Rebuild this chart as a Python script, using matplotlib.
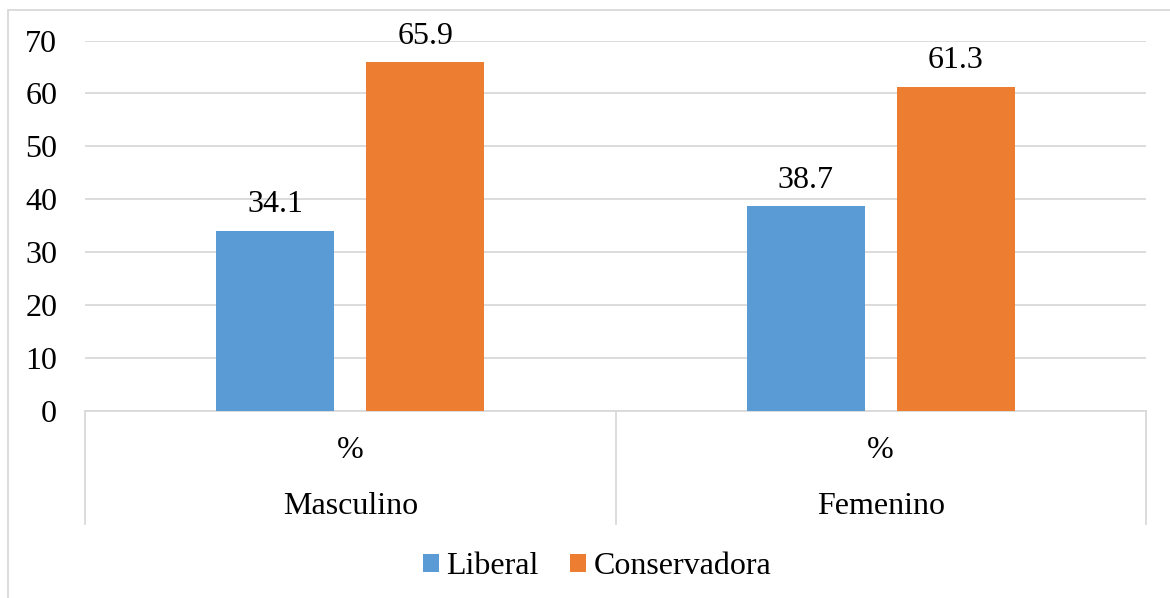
import matplotlib
matplotlib.use("Agg")
import matplotlib.pyplot as plt
from matplotlib.patches import Patch, Rectangle

categories = ["Masculino", "Femenino"]
sublabels = ["%", "%"]
series_names = ["Liberal", "Conservadora"]
liberal = [34.1, 38.7]
conservadora = [65.9, 61.3]
yticks = [0, 10, 20, 30, 40, 50, 60, 70]

colors = ["#5B9BD5", "#ED7D31"]
grid_c = "#D9D9D9"
plt.rcParams['font.family'] = ['Liberation Serif', 'DejaVu Serif']
FS = 23

W, H = 1170, 598
fig = plt.figure(figsize=(W / 100, H / 100), dpi=100)
ax = fig.add_axes([85 / W, 1 - 411 / H, (1146 - 85) / W, (411 - 40.5) / H])

x = list(range(len(categories)))
bw = 0.2224
off = 0.1414
for vals, c, name, sgn in [(liberal, colors[0], series_names[0], -1),
                           (conservadora, colors[1], series_names[1], 1)]:
    xs = [i + sgn * off for i in x]
    bars = ax.bar(xs, vals, width=bw, color=c, zorder=3)
    for b, v in zip(bars, vals):
        ax.annotate(f"{v:.1f}", (b.get_x() + b.get_width() / 2, v),
                    xytext=(0, 13), textcoords="offset points",
                    ha="center", va="baseline", fontsize=FS, color="black")

ax.set_xlim(-0.5, len(categories) - 0.5)
ax.set_ylim(0, 70)
ax.set_yticks(yticks)
ax.set_yticklabels([str(t) for t in yticks], fontsize=FS)
ax.tick_params(axis="y", length=0, pad=20)
ax.set_xticks([])
ax.grid(axis="y", color=grid_c, linewidth=1.3, zorder=0)
for s in ["top", "right", "left"]:
    ax.spines[s].set_visible(False)
ax.spines["bottom"].set_color(grid_c)
ax.spines["bottom"].set_linewidth(1.3)

# multi-level category axis
tr = ax.get_xaxis_transform()
for xb in [i - 0.5 for i in range(len(categories) + 1)]:
    ax.plot([xb, xb], [0, -(524 - 411) / (411 - 40.5)], transform=tr,
            color=grid_c, linewidth=1.3, clip_on=False)
for i, (cat, sub) in enumerate(zip(categories, sublabels)):
    ax.text(i, -(450 - 411) / (411 - 40.5), sub, transform=tr,
            ha="center", va="center", fontsize=FS)
    ax.text(i, -(506 - 411) / (411 - 40.5), cat, transform=tr,
            ha="center", va="center", fontsize=FS)

handles = [Patch(facecolor=colors[0], label=series_names[0]),
           Patch(facecolor=colors[1], label=series_names[1])]
fig.legend(handles=handles, loc="center", bbox_to_anchor=(597 / W, 1 - 567 / H),
           ncol=2, frameon=False, fontsize=FS, handlelength=0.5, handleheight=0.5,
           handletextpad=0.22, columnspacing=1.0, borderpad=0)

# outer chart border
fig.patches.append(Rectangle((8 / W, -0.1), 1.2, 1 - 10 / H + 0.1,
                             transform=fig.transFigure, fill=False,
                             edgecolor=grid_c, linewidth=1.3))

fig.savefig("out.png", dpi=100)
